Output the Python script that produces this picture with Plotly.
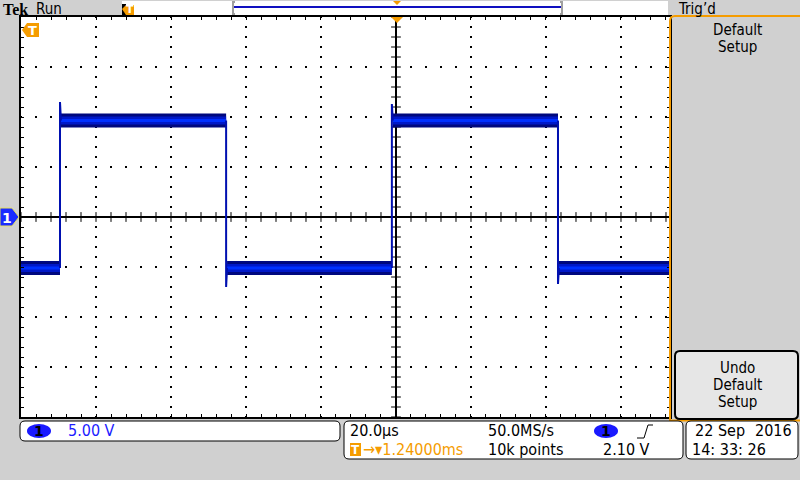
import plotly.graph_objects as go

levels_v = [-5.1, 9.65, -5.1, 9.65, -5.1]      # plateau levels (V)
edges_us = [-89.6, -45.3, -1.1, 43.2]          # edge times (µs)
spikes_v = [11.5, -7.0, 11.3, -6.7]            # over/undershoot at each edge (V)
t_first, t_last = -100.0, 73.07                # visible time window (µs)
volts_per_div = 5.0
us_per_div = 20.0

FONT = "DejaVu Sans Condensed, Liberation Sans Narrow, DejaVu Sans, sans-serif"
ORANGE = "#f59c00"
BLUE_TXT = "#1c1cff"
GRAY = "#d0d0d0"

W, H = 800, 480
L, R, T, B = 21, 670, 17, 417


def px(x):
    return (x - L) / (R - L)


def py(y):
    return (B - y) / (B - T)


def rrect(x0, y0, x1, y1, r):
    X0, X1, Y0, Y1 = px(x0), px(x1), py(y0), py(y1)
    rx, ry = r / (R - L), r / (B - T)
    return (f"M {X0+rx},{Y0} L {X1-rx},{Y0} Q {X1},{Y0} {X1},{Y0-ry} "
            f"L {X1},{Y1+ry} Q {X1},{Y1} {X1-rx},{Y1} L {X0+rx},{Y1} "
            f"Q {X0},{Y1} {X0},{Y1+ry} L {X0},{Y0-ry} Q {X0},{Y0} {X0+rx},{Y0} Z")


fig = go.Figure()

# ---------------- graticule ----------------
ymin, ymax = -4 * volts_per_div, 4 * volts_per_div
minor_t = [t_first + 4 * k for k in range(int((t_last - t_first) / 4) + 1)]
minor_v = [ymin + k for k in range(int(ymax - ymin) + 1)]
major_t = [-80, -60, -40, -20, 20, 40, 60]
major_v = [-15, -10, -5, 5, 10, 15]
gx, gy = [], []
for t in major_t:
    for v in minor_v:
        gx.append(t); gy.append(v)
for v in major_v:
    for t in minor_t:
        gx.append(t); gy.append(v)
fig.add_trace(go.Scatter(x=gx, y=gy, mode="markers", hoverinfo="skip",
                         marker=dict(symbol="square", size=2, color="black", line_width=0)))
# center cross ticks
fig.add_trace(go.Scatter(x=minor_t, y=[0] * len(minor_t), mode="markers", hoverinfo="skip",
                         marker=dict(symbol="line-ns", size=7, line=dict(width=1, color="black"))))
fig.add_trace(go.Scatter(x=[0] * len(minor_v), y=minor_v, mode="markers", hoverinfo="skip",
                         marker=dict(symbol="line-ew", size=7, line=dict(width=1, color="black"))))

# ---------------- waveform ----------------
bounds = [t_first] + edges_us + [t_last]
pt, pv = [], []
for i, lv in enumerate(levels_v):
    s = bounds[i] + (0.25 if i > 0 else 0)
    pt += [s, bounds[i + 1], None]
    pv += [lv, lv, None]
for w, c in [(14, "#00087e"), (8, "#0018c8"), (3, "#0030ff")]:
    fig.add_trace(go.Scatter(x=pt, y=pv, mode="lines", hoverinfo="skip",
                             line=dict(color=c, width=w)))
et, ev = [], []
for i, e in enumerate(edges_us):
    et += [e, e, e + 0.25, None]
    ev += [levels_v[i], spikes_v[i], levels_v[i + 1], None]
fig.add_trace(go.Scatter(x=et, y=ev, mode="lines", hoverinfo="skip",
                         line=dict(color="#0010b0", width=2)))

shapes = []
ann = []


def text(x, y, s, size=15, color="black", anchor="left", family=FONT):
    ann.append(dict(x=px(x), y=py(y), xref="paper", yref="paper", text=s, showarrow=False,
                    xanchor=anchor, yanchor="middle", borderpad=0,
                    font=dict(family=family, size=size, color=color)))


# top bar
shapes.append(dict(type="rect", xref="paper", yref="paper", x0=px(122), x1=px(668), y0=py(1), y1=py(15),
                   fillcolor="white", line_width=0, layer="above"))
shapes.append(dict(type="line", xref="paper", yref="paper", x0=px(233), x1=px(562), y0=py(7), y1=py(7),
                   line=dict(color="#1010c0", width=2)))
for xb, d in [(233, 1), (562, -1)]:
    shapes.append(dict(type="path", xref="paper", yref="paper",
                       path=f"M {px(xb+2*d)},{py(2)} L {px(xb)},{py(2)} L {px(xb)},{py(14)} L {px(xb+2*d)},{py(14)}",
                       line=dict(color="#a0a0a0", width=2)))
shapes.append(dict(type="path", xref="paper", yref="paper",
                   path=f"M {px(393)},{py(1)} L {px(401)},{py(1)} L {px(397)},{py(5)} Z",
                   fillcolor=ORANGE, line_width=0))
# T marker in top bar
shapes.append(dict(type="path", xref="paper", yref="paper",
                   path=f"M {px(122)},{py(4)} L {px(126)},{py(4)} L {px(126)},{py(15)} L {px(122)},{py(15)} Z",
                   fillcolor="black", line_width=0))
shapes.append(dict(type="path", xref="paper", yref="paper",
                   path=f"M {px(122)},{py(9)} L {px(126)},{py(5)} L {px(134)},{py(5)} L {px(134)},{py(15)} L {px(126)},{py(15)} Z",
                   fillcolor=ORANGE, line_width=0))
text(130, 10, "<b>T</b>", size=11, color="white", anchor="center", family="DejaVu Sans")

# trigger position marker at top of graticule
shapes.append(dict(type="path", xref="paper", yref="paper",
                   path=f"M {px(391)},{py(17)} L {px(403)},{py(17)} L {px(397)},{py(23)} Z",
                   fillcolor=ORANGE, line_width=0, layer="above"))
# trigger level marker T (left)
shapes.append(dict(type="path", xref="paper", yref="paper",
                   path=f"M {px(22)},{py(30)} L {px(27)},{py(23)} L {px(39)},{py(23)} L {px(39)},{py(37)} L {px(27)},{py(37)} Z",
                   fillcolor=ORANGE, line_width=0, layer="above"))
text(32, 30.5, "<b>T</b>", size=13, color="white", anchor="center", family="DejaVu Sans")
# channel 1 marker
shapes.append(dict(type="path", xref="paper", yref="paper",
                   path=f"M {px(0)},{py(208)} L {px(12)},{py(208)} L {px(19)},{py(217)} L {px(12)},{py(226)} L {px(0)},{py(226)} Z",
                   fillcolor="#1a2cff", line=dict(color="#e8e060", width=1), layer="above"))
text(7, 218, "<b>1</b>", size=14, color="white", anchor="center", family="DejaVu Sans")

# right menu panel
shapes.append(dict(type="path", xref="paper", yref="paper",
                   path=f"M {px(670)},{py(421)} L {px(670)},{py(21)} Q {px(670)},{py(16)} {px(675)},{py(16)} L {px(800)},{py(16)}",
                   line=dict(color=ORANGE, width=2), layer="above"))
shapes.append(dict(type="line", xref="paper", yref="paper", x0=px(670), x1=px(800), y0=py(420.5), y1=py(420.5),
                   line=dict(color=ORANGE, width=2)))
shapes.append(dict(type="path", xref="paper", yref="paper", path=rrect(675, 351, 798, 419, 5),
                   fillcolor="#e6e6e6", line=dict(color="black", width=2)))
for i, s in enumerate(["Default", "Setup"]):
    text(737, 30 + 17 * i, s, size=15, anchor="center")
for i, s in enumerate(["Undo", "Default", "Setup"]):
    text(737, 368 + 17 * i, s, size=15, anchor="center")

# top labels
text(2, 10, "<b>Tek</b>", size=16, family="Liberation Serif, DejaVu Serif, serif")
text(35, 9, "Run", size=15)
text(677, 9, "Trig’d", size=15)

# bottom boxes
shapes.append(dict(type="path", xref="paper", yref="paper", path=rrect(20, 421, 340, 441, 5),
                   fillcolor="white", line=dict(color="black", width=1)))
shapes.append(dict(type="path", xref="paper", yref="paper", path=rrect(344, 421, 683, 459, 5),
                   fillcolor="white", line=dict(color="black", width=1)))
shapes.append(dict(type="path", xref="paper", yref="paper", path=rrect(686, 421, 798, 459, 5),
                   fillcolor="white", line=dict(color="black", width=1)))
for xc in (39, 606):
    shapes.append(dict(type="circle", xref="paper", yref="paper", x0=px(xc - 12), x1=px(xc + 12),
                       y0=py(424), y1=py(438), fillcolor="#1a1aff", line_width=0))
    text(xc, 431, "<b>1</b>", size=14, anchor="center", family="DejaVu Sans")
text(67, 431, "5.00 V", size=16, color=BLUE_TXT)
text(349, 431, "20.0µs", size=16)
text(487, 431, "50.0MS/s", size=16)
shapes.append(dict(type="path", xref="paper", yref="paper",
                   path=f"M {px(637)},{py(438)} L {px(644)},{py(438)} L {px(648)},{py(425)} L {px(653)},{py(425)}",
                   line=dict(color="black", width=1)))
shapes.append(dict(type="rect", xref="paper", yref="paper", x0=px(350), x1=px(361), y0=py(443), y1=py(456),
                   fillcolor=ORANGE, line_width=0))
text(355.5, 449.5, "<b>T</b>", size=12, color="white", anchor="center", family="DejaVu Sans")
text(362, 449, "→▾1.24000ms", size=16, color=ORANGE)
text(487, 449, "10k points", size=16)
text(651, 449, "2.10 V", size=16, anchor="right")
text(694, 431, "22 Sep", size=16)
text(793, 431, "2016", size=16, anchor="right")
text(691, 449, "14: 33: 26", size=16)

axis_common = dict(showticklabels=False, showgrid=False, zeroline=True, zerolinecolor="black",
                   zerolinewidth=1.5, showline=True, linecolor="black", linewidth=2, mirror="allticks",
                   ticks="inside", ticklen=3, tickcolor="black", tickwidth=1, fixedrange=True)

fig.update_layout(
    width=W, height=H, margin=dict(l=L, r=W - R, t=T, b=H - B),
    paper_bgcolor=GRAY, plot_bgcolor="white", showlegend=False,
    xaxis=dict(range=[t_first, t_last], tick0=t_first, dtick=4, **axis_common),
    yaxis=dict(range=[ymin, ymax], tick0=ymin, dtick=1, **axis_common),
    shapes=shapes, annotations=ann,
)
fig.write_html("out.html")
